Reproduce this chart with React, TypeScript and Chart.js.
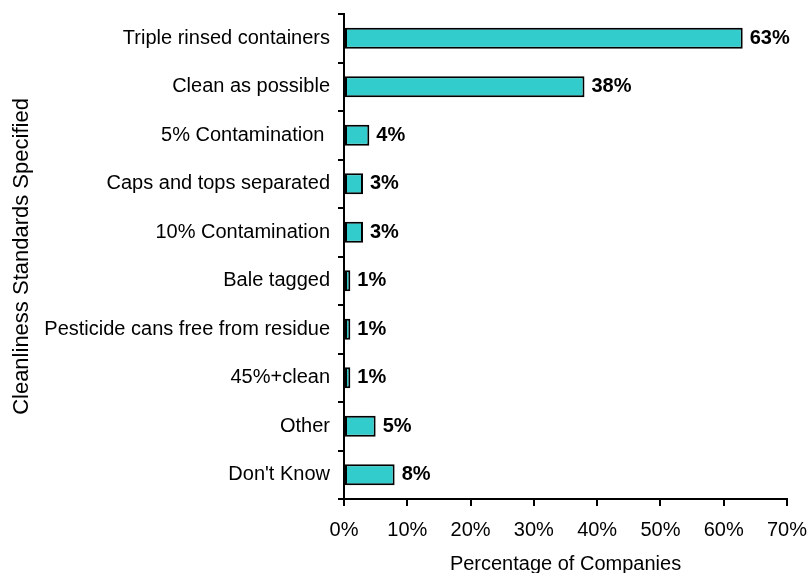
import React, { useEffect, useRef } from "react";
import { Chart, registerables } from "chart.js";

Chart.register(...registerables);

const categories = [
  "Triple rinsed containers",
  "Clean as possible",
  "5% Contamination ",
  "Caps and tops separated",
  "10% Contamination",
  "Bale tagged",
  "Pesticide cans free from residue",
  "45%+clean",
  "Other",
  "Don't Know",
];
const values = [63, 38, 4, 3, 3, 1, 1, 1, 5, 8];
const xMin = 0;
const xMax = 70;
const xStep = 10;
const xTitle = "Percentage of Companies";
const yTitle = "Cleanliness Standards Specified";

const FONT = "'Liberation Sans', Arial, Helvetica, sans-serif";

const valueLabels = {
  id: "valueLabels",
  afterDatasetsDraw(chart: any) {
    const ctx = chart.ctx;
    const meta = chart.getDatasetMeta(0);
    ctx.save();
    ctx.font = `bold 20px ${FONT}`;
    ctx.fillStyle = "#000";
    ctx.textAlign = "left";
    ctx.textBaseline = "middle";
    meta.data.forEach((el: any, i: number) => {
      ctx.fillText(values[i] + "%", el.x + 7, el.y);
    });
    ctx.restore();
  },
};

export default function App() {
  const ref = useRef<HTMLCanvasElement | null>(null);
  useEffect(() => {
    if (!ref.current) return;
    const chart = new Chart(ref.current, {
      type: "bar",
      data: {
        labels: categories,
        datasets: [
          {
            data: values,
            backgroundColor: "#33CCCC",
            borderColor: "#000",
            borderWidth: 2,
            borderSkipped: false,
            barPercentage: 0.43,
            categoryPercentage: 1,
          },
        ],
      },
      options: {
        indexAxis: "y",
        animation: false,
        responsive: false,
        layout: { padding: { left: 0, right: 22, top: 14, bottom: 0 } },
        plugins: { legend: { display: false }, tooltip: { enabled: false } },
        scales: {
          x: {
            type: "linear",
            min: xMin,
            max: xMax,
            afterFit: (s: any) => {
              s.height = 74;
              s.paddingLeft = 0;
              s.paddingRight = 0;
            },
            ticks: {
              stepSize: xStep,
              color: "#000",
              padding: 12,
              font: { family: FONT, size: 20 },
              callback: (v: any) => v + "%",
            },
            grid: {
              drawOnChartArea: false,
              drawTicks: true,
              tickLength: 7,
              color: "#000",
              lineWidth: 2,
            },
            border: { display: true, color: "#000", width: 2 },
            title: {
              display: true,
              text: xTitle,
              color: "#000",
              font: { family: FONT, size: 20 },
              padding: { top: 0, bottom: -3 },
            },
          },
          y: {
            type: "category",
            afterFit: (s: any) => {
              s.width = 344;
              s.paddingTop = 0;
              s.paddingBottom = 0;
            },
            ticks: {
              color: "#000",
              padding: 8,
              font: { family: FONT, size: 20 },
            },
            grid: {
              offset: true,
              drawOnChartArea: false,
              drawTicks: true,
              tickLength: 6,
              color: "#000",
              lineWidth: 2,
            },
            border: { display: true, color: "#000", width: 2 },
            title: {
              display: true,
              text: yTitle,
              color: "#000",
              font: { family: FONT, size: 22 },
              padding: { top: 9, bottom: 0 },
            },
          },
        },
      },
      plugins: [valueLabels],
    });
    return () => chart.destroy();
  }, []);
  return (
    <div style={{ position: "absolute", left: 0, top: 0, width: 809, height: 573, background: "#fff" }}>
      <canvas ref={ref} width={809} height={573} />
    </div>
  );
}
